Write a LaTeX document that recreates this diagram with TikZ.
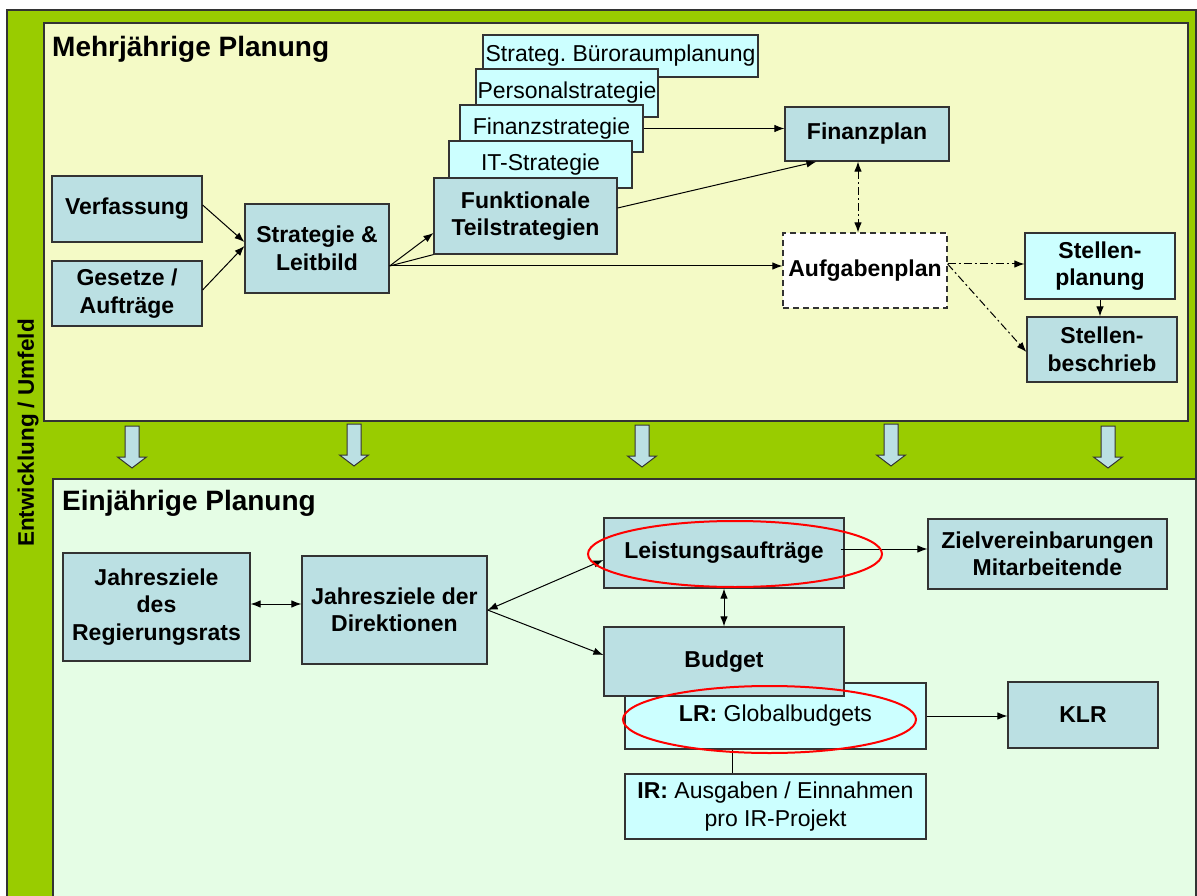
\documentclass[tikz,border=0pt]{standalone}
\usepackage{fontspec}
\setmainfont{Liberation Sans}
\usetikzlibrary{arrows.meta}
\definecolor{framegreen}{HTML}{99CC00}
\definecolor{paleyellow}{HTML}{F4FAC6}
\definecolor{palegreen}{HTML}{E5FDE5}
\definecolor{boxblue}{HTML}{BBE0E3}
\definecolor{boxcyan}{HTML}{CCFFFF}
\definecolor{edge}{HTML}{333333}
\tikzset{
  panel/.style={draw=edge, line width=1.2pt},
  box/.style={draw=edge, line width=1.2pt, fill=boxblue, align=center, inner sep=1pt,
    font=\fontsize{23}{27.5}\selectfont\bfseries},
  lbox/.style={box, fill=boxcyan},
  stack/.style={box, fill=boxcyan, font=\fontsize{23}{27}\selectfont},
  title/.style={anchor=base west, inner sep=0pt, font=\fontsize{28}{30}\selectfont\bfseries},
  conn/.style={line width=1pt},
  dd/.style={conn, dash pattern=on 8pt off 3pt on 2pt off 3pt},
  ring/.style={draw=red, line width=2pt},
  blockarrow/.style={draw=edge, line width=1pt, fill=boxblue}
}
\begin{document}
\begin{tikzpicture}[x=1pt,y=-1pt,>={Latex[length=10pt,width=7.5pt]}]
\useasboundingbox (0,0) rectangle (1197,896);
% frame and panels
\draw[panel, fill=framegreen] (7,10) rectangle (1196,905);
\draw[panel, fill=paleyellow] (44,23) rectangle (1188,421);
\draw[panel, fill=palegreen] (53,479) rectangle (1196,905);
\node[rotate=90, font=\fontsize{22.5}{26}\selectfont\bfseries] (umfeld) at (28,433) {Entwicklung / Umfeld};
\node[title] (mehrj) at (52,57) {Mehrjährige Planung};
\node[title] (einj) at (62,510) {Einjährige Planung};
\foreach \x/\t in {132/426,354/424,642/425,891/424,1108/426}
{
    \draw[blockarrow] (\x-7,\t)--(\x+7,\t)--(\x+7,\t+31)--(\x+14.5,\t+31)--(\x,\t+42)--(\x-14.5,\t+31)--(\x-7,\t+31)--cycle;
}
% Mehrjaehrige Planung
\node[box, minimum width=150pt, minimum height=66pt] (verf) at (127,209) {Verfassung};
\node[box, minimum width=150pt, minimum height=65pt] (gesetz) at (127,293.5) {Gesetze /\\Aufträge};
\node[box, minimum width=144pt, minimum height=89pt] (strat) at (317,248.5) {Strategie \&\\Leitbild};
\node[stack, minimum width=275pt, minimum height=42pt] (buero) at (620.5,56) {Strateg.\ Büroraumplanung};
\node[stack, minimum width=182pt, minimum height=48pt] (personal) at (567,93) {Personalstrategie};
\node[stack, minimum width=183pt, minimum height=47pt] (finstrat) at (551.5,128.5) {Finanzstrategie};
\node[stack, minimum width=183pt, minimum height=47pt] (itstrat) at (540.5,164.5) {IT-Strategie};
\node[box, minimum width=183pt, minimum height=76pt] (funkt) at (525.5,216) {Funktionale\\Teilstrategien};
\node[box, minimum width=164pt, minimum height=54pt] (finplan) at (867,134) {Finanzplan};
\node[box, fill=white, dash pattern=on 6pt off 4pt, minimum width=164pt, minimum height=75pt] (aufg) at (865,270.5) {Aufgabenplan};
\node[lbox, minimum width=150pt, minimum height=66pt] (stplan) at (1100,266) {Stellen-\\planung};
\node[box, minimum width=150pt, minimum height=65pt] (stbeschr) at (1102,349.5) {Stellen-\\beschrieb};
\coordinate (sx) at ([yshift=-17.5pt]strat.east);
\coordinate (ax) at ([yshift=6.5pt]aufg.east);
\draw[conn,->] ([yshift=4pt]verf.east)--([yshift=6.5pt]strat.west);
\draw[conn,->] ([yshift=3.5pt]gesetz.east)--([yshift=2.5pt]strat.west);
\draw[conn,->] (sx)--([yshift=-17pt]funkt.west);
\draw[conn] (sx)--(funkt.south west);
\draw[conn,->] (sx)--(sx -| aufg.west);
\draw[conn,->] (finstrat.east)--(finstrat.east -| finplan.west);
\draw[conn,->] ([yshift=8pt]funkt.east)--([xshift=32pt]finplan.south west);
\draw[dd,<->] ([xshift=-9pt]finplan.south)--([xshift=-9pt]finplan.south |- aufg.north);
\draw[dd,->] (ax)--(ax -| stplan.west);
\draw[dd,->] (ax)--([yshift=-2.5pt]stbeschr.west);
\draw[conn,->] (stplan.south)--(stplan.south |- stbeschr.north);
% Einjaehrige Planung
\node[box, minimum width=187pt, minimum height=108pt] (jzrr) at (156.5,607) {Jahresziele\\des\\Regierungsrats};
\node[box, minimum width=185pt, minimum height=108pt] (jzdir) at (394.5,610) {Jahresziele der\\Direktionen};
\node[box, minimum width=240pt, minimum height=70pt] (leist) at (724,553) {Leistungsaufträge};
\node[box, minimum width=239pt, minimum height=70pt] (ziel) at (1047.5,554) {Zielvereinbarungen\\Mitarbeitende};
\node[lbox, minimum width=301pt, minimum height=66pt, font=\fontsize{23}{27.5}\selectfont] (lr) at (775.5,716) {\textbf{LR:} Globalbudgets};
\node[box, minimum width=240pt, minimum height=69pt] (budget) at (724,661.5) {Budget};
\node[box, minimum width=150pt, minimum height=66pt] (klr) at (1083,715) {KLR};
\node[lbox, minimum width=301pt, minimum height=65pt, font=\fontsize{23}{27.5}\selectfont] (ir) at (775.5,806.5) {\textbf{IR:} Ausgaben / Einnahmen\\pro IR-Projekt};
\draw[conn,<->] ([yshift=3pt]jzrr.east)--([yshift=3pt]jzrr.east -| jzdir.west);
\draw[conn,<->] (jzdir.east)--([yshift=-7pt]leist.west);
\draw[conn,->] (jzdir.east)--([yshift=6.5pt]budget.west);
\draw[conn,->] ([xshift=-4pt,yshift=4pt]leist.east)--([yshift=4pt]leist.east -| ziel.west);
\draw[conn,<->] (leist.south)--(budget.north);
\draw[conn,->] (lr.east)--(lr.east -| klr.west);
\draw[conn] ([xshift=-43.5pt]lr.south)--([xshift=-43.5pt]lr.south |- ir.north);
\draw[ring] (735,554) ellipse [x radius=147pt, y radius=33pt];
\draw[ring] (769.5,719.5) ellipse [x radius=146.5pt, y radius=33.5pt];
\end{tikzpicture}
\end{document}
